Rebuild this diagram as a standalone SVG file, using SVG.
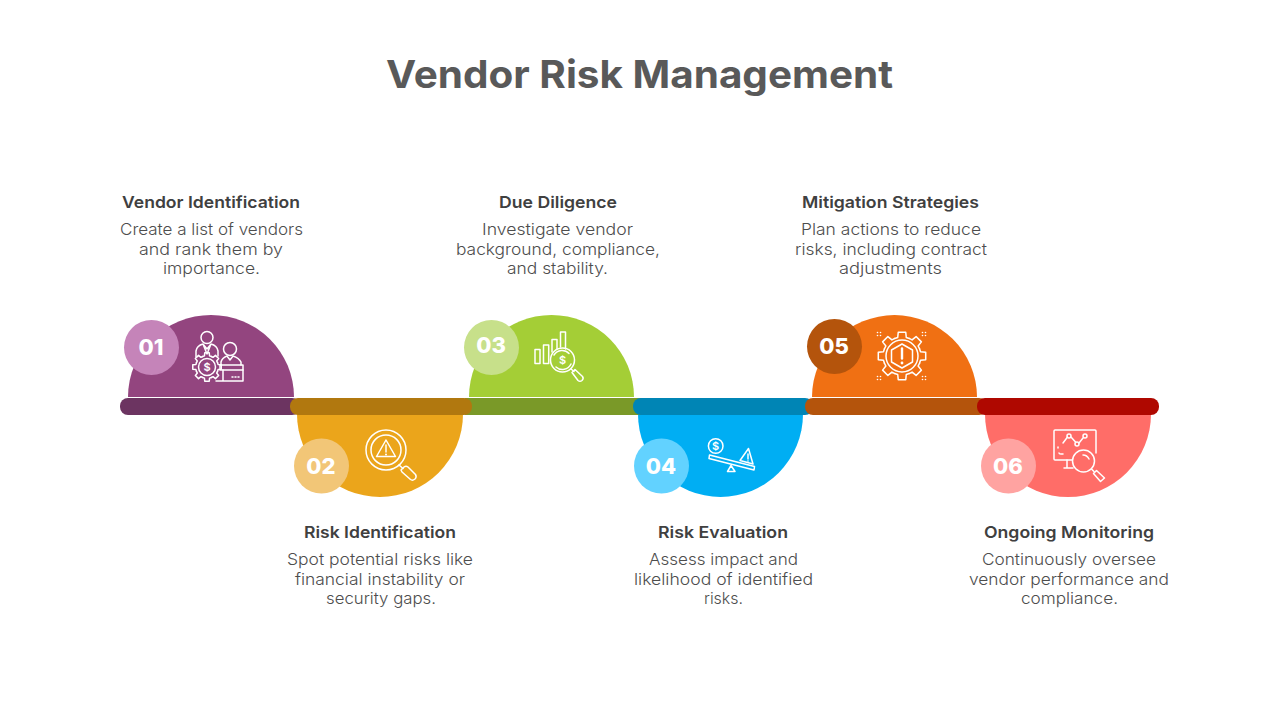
<svg xmlns="http://www.w3.org/2000/svg" width="1280" height="720" viewBox="0 0 1280 720">
<style>
text{font-family:Inter,"Liberation Sans",sans-serif}
.t{font-size:38px;font-weight:700;fill:#595959}
.h{font-size:16.5px;font-weight:600;fill:#404040}
.b{font-size:16.5px;font-weight:300;fill:#4d4d4d}
.n{font-size:22px;font-weight:800;fill:#fff;text-anchor:middle}
.d{font-size:11px;font-weight:600;fill:#fff;text-anchor:middle}
.i{fill:none;stroke:#fff;stroke-width:1.5;stroke-linecap:round;stroke-linejoin:round}
.f{fill:#fff;stroke:none}
</style>
<defs>
<path id="tooth" d="M-7.27-17.55L-4.27-18.51L-3.75-23.7L3.75-23.7L4.27-18.51L7.27-17.55"/>
<g id="gear">
<use href="#tooth"/><use href="#tooth" transform="rotate(45)"/><use href="#tooth" transform="rotate(90)"/><use href="#tooth" transform="rotate(135)"/><use href="#tooth" transform="rotate(180)"/><use href="#tooth" transform="rotate(225)"/><use href="#tooth" transform="rotate(270)"/><use href="#tooth" transform="rotate(315)"/>
</g>
<g id="dots"><circle class="f" cx="-1.5" cy="-1.5" r=".8"/><circle class="f" cx="1.5" cy="-1.5" r=".8"/><circle class="f" cx="-1.5" cy="1.5" r=".8"/><circle class="f" cx="1.5" cy="1.5" r=".8"/></g>
</defs>
<rect width="1280" height="720" fill="#fff"/>
<text class="t" x="386" y="88" textLength="507" lengthAdjust="spacingAndGlyphs">Vendor Risk Management</text>

<g id="node-01">
<path d="M128 397A83 82 0 0 1 294 397Z" fill="#93457f"/>
<circle cx="151.500" cy="347.500" r="27.500" fill="#c584b9"/>
<text class="n" x="151" y="355">01</text>
<g class="i">
<circle cx="207" cy="337.500" r="6"/>
<path d="M196 357V351Q197 345.500 203 344L207 349L211 344Q217 345.500 218 351V356M203 344L207 354L211 344"/>
<g transform="translate(207 367) scale(.6)" stroke-width="2.500"><use href="#gear"/></g>
<circle cx="207" cy="367" r="8.500"/>
<circle cx="230" cy="349" r="6.500"/>
<path d="M221 365V362Q222 358 227 356L230 360L233 356Q239 358 241 362V365"/>
<rect x="220" y="365" width="23" height="5"/>
<path d="M223 370V381H243V370M216 381H223M232 377H233M235 377H236M238 377H239"/>
</g>
<text class="d" x="207" y="371">$</text>
<text class="h" x="122" y="208" textLength="178" lengthAdjust="spacingAndGlyphs">Vendor Identification</text>
<text class="b" x="120" y="235" textLength="183" lengthAdjust="spacingAndGlyphs">Create a list of vendors</text>
<text class="b" x="139" y="255" textLength="144" lengthAdjust="spacingAndGlyphs">and rank them by</text>
<text class="b" x="163" y="274" textLength="97" lengthAdjust="spacingAndGlyphs">importance.</text>
</g>

<g id="node-02">
<path d="M297 414A83 83 0 0 0 463 414Z" fill="#eba51b"/>
<circle cx="321.500" cy="466" r="27.500" fill="#f2c677"/>
<text class="n" x="321" y="474">02</text>
<g class="i">
<circle cx="386" cy="450" r="20"/>
<circle cx="386" cy="450" r="15"/>
<path d="M386 440L376.500 456.500H395.500Z"/>
<path d="M386 445V452"/>
<path d="M399 465L403 468.500"/>
<path d="M401 470L404 467Q406 465.500 408 467L415.500 474.500Q417 477 415 479Q412.500 481 410.500 479.500L402 472Z"/>
</g>
<circle class="f" cx="386" cy="454.500" r="1"/>
<text class="h" x="304" y="538" textLength="152" lengthAdjust="spacingAndGlyphs">Risk Identification</text>
<text class="b" x="287" y="565" textLength="186" lengthAdjust="spacingAndGlyphs">Spot potential risks like</text>
<text class="b" x="295" y="585" textLength="170" lengthAdjust="spacingAndGlyphs">financial instability or</text>
<text class="b" x="326" y="604" textLength="110" lengthAdjust="spacingAndGlyphs">security gaps.</text>
</g>

<g id="node-03">
<path d="M469 397A82.500 82 0 0 1 634 397Z" fill="#a4ce36"/>
<circle cx="491.500" cy="347.500" r="27.500" fill="#c7e08a"/>
<text class="n" x="491" y="353">03</text>
<g class="i">
<rect x="535" y="349.500" width="5" height="14"/>
<rect x="543.500" y="345" width="5.200" height="18.500"/>
<path d="M552 352V339.500H557V349"/>
<path d="M560.500 347V332H565.500V349"/>
<circle cx="562.500" cy="360" r="12"/>
<path d="M554 355A9.500 9.500 0 0 1 569 353.500M571 364A9.500 9.500 0 0 1 556 367"/>
<path d="M571 369L574 371.500"/>
<path d="M572 372.500L575 369.500L582.500 376.500Q584 378.500 582 380.500Q580 382 578 380.500Z"/>
</g>
<text class="d" x="562.500" y="364">$</text>
<text class="h" x="499" y="208" textLength="118" lengthAdjust="spacingAndGlyphs">Due Diligence</text>
<text class="b" x="482" y="235" textLength="151" lengthAdjust="spacingAndGlyphs">Investigate vendor</text>
<text class="b" x="456" y="255" textLength="204" lengthAdjust="spacingAndGlyphs">background, compliance,</text>
<text class="b" x="507" y="274" textLength="101" lengthAdjust="spacingAndGlyphs">and stability.</text>
</g>

<g id="node-04">
<path d="M638 414A82.500 83 0 0 0 803 414Z" fill="#00aef3"/>
<circle cx="661.500" cy="466" r="27.500" fill="#62d2ff"/>
<text class="n" x="661" y="474">04</text>
<g class="i">
<circle cx="715.700" cy="446" r="7.300"/>
<path d="M709.500 455L754.500 466.500L754 470L709 458.500Z"/>
<path d="M748.500 448.500L740 460.500L753 464Z"/>
<path d="M748 454V459"/>
<path d="M731 465.500L727.500 471.500H735Z"/>
</g>
<circle class="f" cx="748" cy="461" r=".8"/>
<text class="d" x="715.700" y="450">$</text>
<text class="h" x="658" y="538" textLength="130" lengthAdjust="spacingAndGlyphs">Risk Evaluation</text>
<text class="b" x="649" y="565" textLength="149" lengthAdjust="spacingAndGlyphs">Assess impact and</text>
<text class="b" x="634" y="585" textLength="179" lengthAdjust="spacingAndGlyphs">likelihood of identified</text>
<text class="b" x="704" y="604" textLength="39" lengthAdjust="spacingAndGlyphs">risks.</text>
</g>

<g id="node-05">
<path d="M812 397A82.500 82 0 0 1 977 397Z" fill="#f07013"/>
<circle cx="834.500" cy="346.500" r="27.500" fill="#b4540c"/>
<text class="n" x="834" y="354">05</text>
<g class="i">
<use href="#gear" transform="translate(902 356)"/>
<circle cx="902" cy="356" r="16"/>
<path d="M902 344L912.500 350V362L902 368L891.500 362V350Z"/>
<path d="M902 348.500V358.500" stroke-width="2.400"/>
</g>
<circle class="f" cx="902" cy="363" r="1.400"/>
<use href="#dots" x="879" y="334"/><use href="#dots" x="924" y="334"/><use href="#dots" x="879" y="378"/><use href="#dots" x="924" y="378"/>
<text class="h" x="802" y="208" textLength="177" lengthAdjust="spacingAndGlyphs">Mitigation Strategies</text>
<text class="b" x="801" y="235" textLength="180" lengthAdjust="spacingAndGlyphs">Plan actions to reduce</text>
<text class="b" x="795" y="255" textLength="192" lengthAdjust="spacingAndGlyphs">risks, including contract</text>
<text class="b" x="839" y="274" textLength="103" lengthAdjust="spacingAndGlyphs">adjustments</text>
</g>

<g id="node-06">
<path d="M985 414A83 83 0 0 0 1151 414Z" fill="#ff6d68"/>
<circle cx="1008.500" cy="466" r="27.500" fill="#ffa3a1"/>
<text class="n" x="1008" y="474">06</text>
<g class="i">
<path d="M1072 460H1055Q1054 460 1054 459V431Q1054 430 1055 430H1095Q1096 430 1096 431V453"/>
<path d="M1063 443L1067.500 437"/>
<path d="M1071 437L1075.500 442M1079 443L1083 438"/>
<circle cx="1069" cy="436" r="2"/><circle cx="1077" cy="444" r="2"/><circle cx="1085" cy="436" r="2"/>
<path d="M1058 447V448M1059 453Q1059 454 1061 454H1063"/>
<path d="M1067 460V468M1064 468H1073"/>
<circle cx="1083.500" cy="461" r="11"/>
<path d="M1083 455Q1087 455 1089 459"/>
<path d="M1091.500 469L1094 471.500"/>
<path d="M1093.500 473.500L1096.500 470.500L1104.500 478L1100.500 481.500Z"/>
</g>
<text class="h" x="984" y="538" textLength="170" lengthAdjust="spacingAndGlyphs">Ongoing Monitoring</text>
<text class="b" x="982" y="565" textLength="174" lengthAdjust="spacingAndGlyphs">Continuously oversee</text>
<text class="b" x="969" y="585" textLength="200" lengthAdjust="spacingAndGlyphs">vendor performance and</text>
<text class="b" x="1021" y="604" textLength="97" lengthAdjust="spacingAndGlyphs">compliance.</text>
</g>

<g id="connectors">
<rect x="120" y="398" width="180" height="17" rx="8" fill="#6c3461"/>
<rect x="465" y="398" width="178" height="17" fill="#7a9928"/>
<rect x="290" y="398" width="182" height="17" rx="8" fill="#b1780f"/>
<rect x="633" y="398" width="180" height="17" rx="8" fill="#0085b5"/>
<rect x="805" y="398" width="182" height="17" rx="8" fill="#b4540c"/>
<rect x="977" y="398" width="182" height="17" rx="8" fill="#af0800"/>
</g>
</svg>
